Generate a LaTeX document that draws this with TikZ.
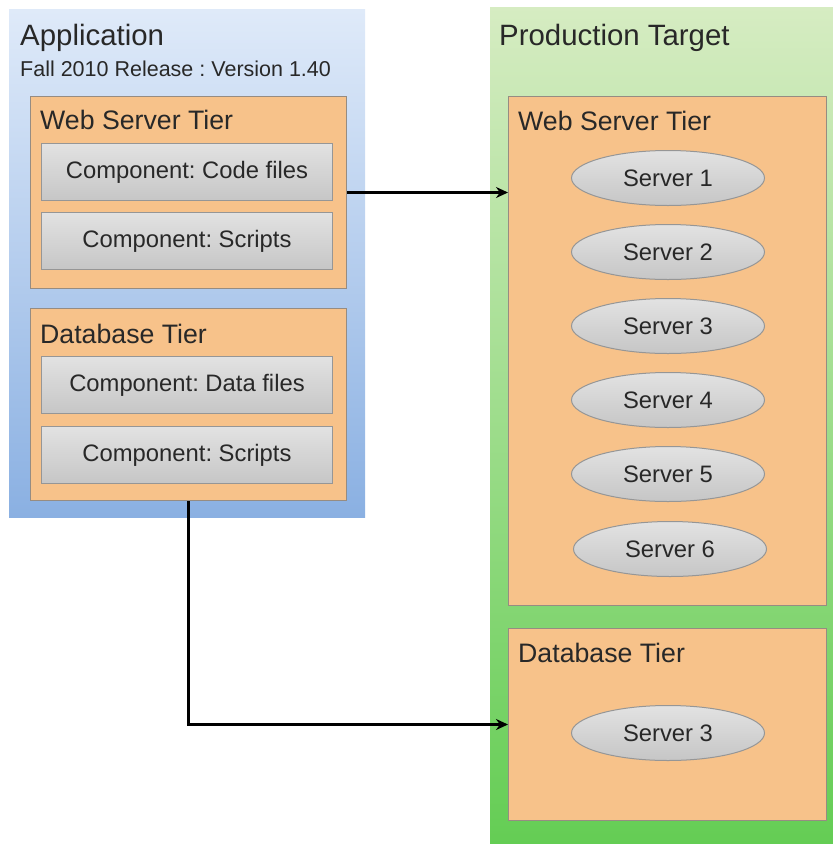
\documentclass[tikz,border=0pt]{standalone}
\usepackage{fontspec}
\setmainfont{Liberation Sans}
\usetikzlibrary{arrows.meta,shapes.geometric,positioning}
\frenchspacing

\definecolor{tierfill}{RGB}{247,194,138}
\definecolor{tierline}{RGB}{150,140,130}
\definecolor{inktext}{RGB}{40,40,40}
\definecolor{apptop}{RGB}{223,234,249}
\definecolor{appbot}{RGB}{138,176,226}
\definecolor{prodtop}{RGB}{214,236,194}
\definecolor{prodbot}{RGB}{100,205,84}
\definecolor{comptop}{RGB}{226,226,226}
\definecolor{compbot}{RGB}{198,198,198}
\definecolor{compline}{RGB}{150,150,150}

\tikzset{
  x=1pt, y=-1pt,
  every node/.style={inner sep=0pt, text=inktext},
  panel/.style={rectangle, anchor=north west, draw=none},
  tierbox/.style={rectangle, anchor=north west, fill=tierfill, draw=tierline, line width=1pt},
  compbox/.style={rectangle, anchor=north west, top color=comptop, bottom color=compbot,
                  draw=compline, line width=1pt, minimum width=291pt, minimum height=57pt,
                  font=\fontsize{23.8}{28}\selectfont},
  srv/.style={ellipse, top color=comptop, bottom color=compbot, draw=compline, line width=1pt,
              minimum width=193pt, minimum height=55pt, font=\fontsize{23.8}{28}\selectfont},
  bigtitle/.style={anchor=base west, font=\fontsize{29.4}{34}\selectfont},
  subtitle/.style={anchor=base west, font=\fontsize{21.5}{25}\selectfont},
  tiertitle/.style={anchor=base west, font=\fontsize{26.7}{31}\selectfont},
  flow/.style={line width=2.4pt, black, -{Stealth[length=12pt,width=11pt]}}
}

\begin{document}
\begin{tikzpicture}
\useasboundingbox (0,0) rectangle (833,844);

% Application panel and production panel
\node[panel, minimum width=356pt, minimum height=508pt, top color=apptop, bottom color=appbot] (app) at (9,9) {};
\node[panel, minimum width=343pt, minimum height=837pt, top color=prodtop, bottom color=prodbot] (prod) at (490,7) {};

\node[bigtitle] (apptitle) at (20,45) {Application};
\node[subtitle] (appsub) at (20,76) {Fall 2010 Release : Version 1.40};
\node[bigtitle] (prodtitle) at (499,45) {Production Target};

% Application tiers
\node[tierbox, minimum width=316pt, minimum height=192pt] (webL) at (30,96) {};
\node[tiertitle] (webLt) at (40,129) {Web Server Tier};
\node[compbox] (code) at (41,143) {Component: Code files};
\node[compbox] (scrA) at (41,212) {Component: Scripts};

\node[tierbox, minimum width=316pt, minimum height=192pt] (dbL) at (30,308) {};
\node[tiertitle] (dbLt) at (40,343) {Database Tier};
\node[compbox] (data) at (41,356) {Component: Data files};
\node[compbox] (scrB) at (41,426) {Component: Scripts};

% Production tiers
\node[tierbox, minimum width=318pt, minimum height=509pt] (webR) at (508,96) {};
\node[tiertitle] (webRt) at (518,130) {Web Server Tier};
\node[srv] (s1) at (668,178) {Server 1};
\node[srv] (s2) at (668,252) {Server 2};
\node[srv] (s3) at (668,326) {Server 3};
\node[srv] (s4) at (668,400) {Server 4};
\node[srv] (s5) at (668,474) {Server 5};
\node[srv] (s6) at (670,549) {Server 6};

\node[tierbox, minimum width=318pt, minimum height=192pt] (dbR) at (508,628) {};
\node[tiertitle] (dbRt) at (518,662) {Database Tier};
\node[srv] (db3) at (668,733) {Server 3};

% Deployment connectors
\draw[flow] (webL.east) -- (webL.east -| webR.west);
\draw[flow] (dbL.south) |- (dbR.west);
\end{tikzpicture}
\end{document}
